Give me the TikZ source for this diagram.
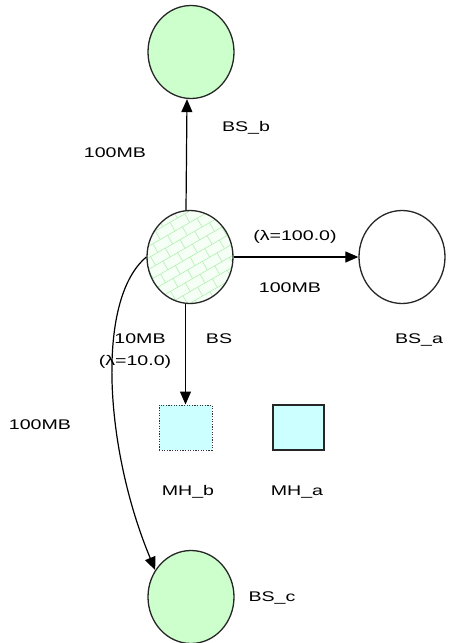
\documentclass[tikz,border=0pt]{standalone}
\usepackage{fontspec}
\setmainfont{Liberation Sans}[FakeStretch=1.4]
\usetikzlibrary{shapes.geometric,arrows.meta}
\definecolor{nodegreen}{RGB}{204,255,204}
\definecolor{hostcyan}{RGB}{204,255,255}
\definecolor{hatchgreen}{RGB}{180,238,180}
\begin{document}
\begin{tikzpicture}[x=1pt,y=-1pt,
  station/.style={ellipse,draw=black!85,line width=1.3pt,inner sep=0pt,
    minimum width=86pt,minimum height=93pt},
  host/.style={rectangle,draw=black!85,line width=1.3pt,fill=hostcyan,inner sep=0pt,
    minimum height=45pt},
  lbl/.style={inner sep=0pt,font=\fontsize{14}{16}\selectfont},
  link/.style={line width=1.2pt,-{Triangle[length=13pt,width=11pt]}},
  % slanted brick hatching: rows rise to the right at 30 degrees
  hatched/.style={path picture={
    \begin{scope}[shift={(path picture bounding box.center)},
        draw=hatchgreen,line width=0.6pt]
      \foreach \k in {-7,...,7}{
        \draw ({-90*0.866+\k*10*0.5},{90*0.5+\k*10*0.866}) --
              ({90*0.866+\k*10*0.5},{-90*0.5+\k*10*0.866});
        \pgfmathsetmacro{\off}{mod(\k+20,2)*8.5}
        \foreach \j in {-5,...,5}{
          \pgfmathsetmacro{\u}{\j*17+\off}
          \draw ({\u*0.866+\k*10*0.5},{-\u*0.5+\k*10*0.866}) --
                ({\u*0.866+(\k+1)*10*0.5},{-\u*0.5+(\k+1)*10*0.866});
        }
      }
    \end{scope}}}
]
\useasboundingbox (0,0) rectangle (473,643);

% base stations
\node[station,fill=nodegreen] (BSb) at (191,52) {};
\node[station,fill=nodegreen!20,hatched] (BS) at (190,257) {};
\node[station,fill=white] (BSa) at (402,257) {};
\node[station,fill=nodegreen] (BSc) at (191,597) {};

% mobile hosts
\node[host,minimum width=53pt,draw=black!80,line width=1pt,
  dash pattern=on 1.2pt off 1.4pt] (MHb) at (185.5,427.5) {};
\node[host,minimum width=51pt] (MHa) at (298.5,427.5) {};

% node names
\node[lbl] (tBSb) at (246,128) {BS\_b};
\node[lbl] (tBS) at (219,339) {BS};
\node[lbl] (tBSa) at (419,340) {BS\_a};
\node[lbl] (tMHb) at (188,492) {MH\_b};
\node[lbl] (tMHa) at (297,492) {MH\_a};
\node[lbl] (tBSc) at (272,598) {BS\_c};

% links
\draw[link] ([xshift=-4pt]BS.north) -- ([xshift=-4pt]BSb.south);
\draw[link] (BS.east) -- (BSa.west);
\draw[link] (BS.south -| MHb) -- (MHb.north);
\draw[link] (BS.west) .. controls (95,300) and (105,450) .. (BSc.143);

% link labels
\node[lbl] (l1) at (115,153) {100MB};
\node[lbl] (l2) at (295,237) {(λ=100.0)};
\node[lbl] (l3) at (290,288) {100MB};
\node[lbl] (l4) at (140,339) {10MB};
\node[lbl] (l5) at (135,362) {(λ=10.0)};
\node[lbl] (l6) at (40,425) {100MB};
\end{tikzpicture}
\end{document}
